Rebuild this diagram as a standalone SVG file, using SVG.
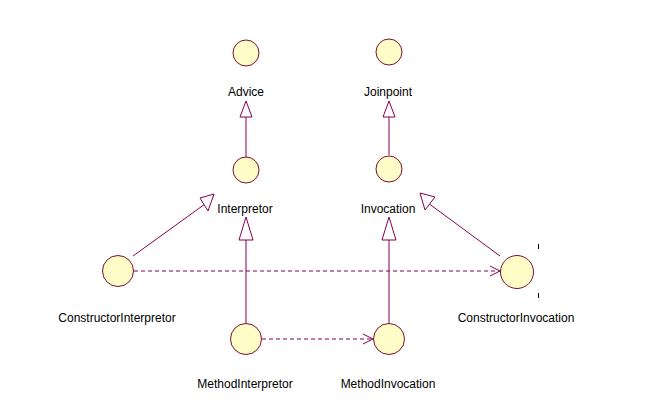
<svg xmlns="http://www.w3.org/2000/svg" width="653" height="418" viewBox="0 0 653 418">
<style>
.n{fill:#FFFCC8;stroke:#7A1030;stroke-width:1}
.t{font-family:"Liberation Sans",Arial,sans-serif;font-size:12px;fill:#000;text-anchor:middle}
.c{stroke:#840050;stroke-width:1;fill:none}
.h{stroke:#840050;stroke-width:1;fill:#fff}
.d{stroke:#840050;stroke-width:1;fill:none;stroke-dasharray:4,3}
</style>
<rect width="653" height="418" fill="#fff"/>
<g id="connectors">
<line class="c" x1="246" y1="117" x2="246" y2="157"/>
<polygon class="h" points="246,101 240,117 252,117"/>
<line class="c" x1="389" y1="117" x2="389" y2="155"/>
<polygon class="h" points="389,101 383,117 395,117"/>
<line class="c" x1="246" y1="240" x2="246" y2="323"/>
<polygon class="h" points="246,217 239,240 253,240"/>
<line class="c" x1="389" y1="240" x2="389" y2="323"/>
<polygon class="h" points="389,217 382,240 396,240"/>
<line class="c" x1="133" y1="256" x2="205" y2="204"/>
<polygon class="h" points="214,194 200,198 208,211"/>
<line class="c" x1="500" y1="256" x2="428" y2="203"/>
<polygon class="h" points="420,193 435,197 425,210"/>
<line class="d" x1="134" y1="271" x2="500" y2="271"/>
<polyline class="c" points="490,266 500,271 490,276"/>
<line class="d" x1="262" y1="339" x2="373" y2="339"/>
<polyline class="c" points="363,334 373,339 363,344"/>
</g>
<g id="Advice"><circle class="n" cx="246" cy="53" r="13"/><text class="t" x="246" y="96">Advice</text></g>
<g id="Joinpoint"><circle class="n" cx="389" cy="52" r="13"/><text class="t" x="388" y="96">Joinpoint</text></g>
<g id="Interpretor"><circle class="n" cx="246" cy="170" r="13"/><text class="t" x="245" y="213">Interpretor</text></g>
<g id="Invocation"><circle class="n" cx="389" cy="169" r="13"/><text class="t" x="388" y="213">Invocation</text></g>
<g id="ConstructorInterpretor"><circle class="n" cx="118" cy="271" r="15.5"/><text class="t" x="117" y="322">ConstructorInterpretor</text></g>
<g id="ConstructorInvocation"><circle class="n" cx="517" cy="272" r="16.5"/><text class="t" x="516" y="322">ConstructorInvocation</text>
<line x1="538.5" y1="244" x2="538.5" y2="249" stroke="#000"/><line x1="538.5" y1="293" x2="538.5" y2="298" stroke="#000"/></g>
<g id="MethodInterpretor"><circle class="n" cx="246" cy="339" r="15.5"/><text class="t" x="245" y="388">MethodInterpretor</text></g>
<g id="MethodInvocation"><circle class="n" cx="389" cy="339" r="15.5"/><text class="t" x="388" y="388">MethodInvocation</text></g>
</svg>
